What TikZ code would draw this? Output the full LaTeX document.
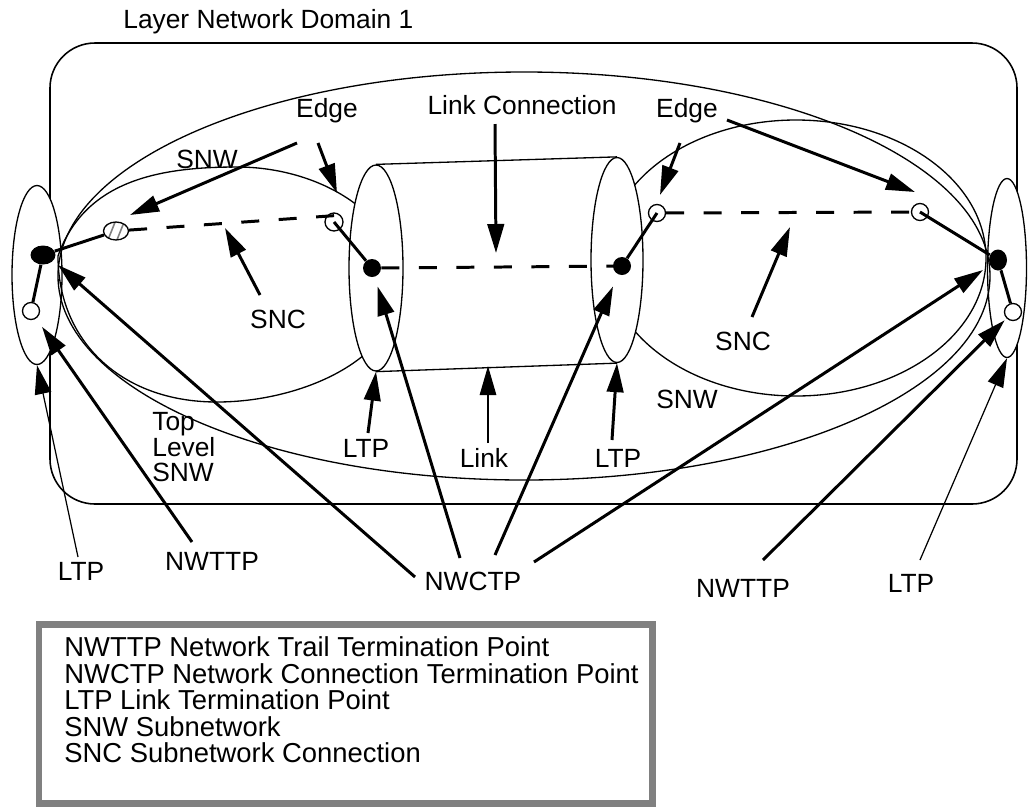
\documentclass[tikz,border=0pt]{standalone}
\usepackage{fontspec}
\setmainfont{Liberation Sans}
\usetikzlibrary{arrows.meta, shapes.geometric}

\begin{document}
\begin{tikzpicture}[x=0.02cm, y=-0.02cm,
  font=\fontsize{15}{15.2}\selectfont,
  lbl/.style={anchor=base, inner sep=0pt},
  outline/.style={line width=0.75pt},
  ltp/.style={ellipse, draw, fill=white, line width=0.75pt, inner sep=0pt},
  opendot/.style={circle, draw, fill=white, line width=0.75pt, inner sep=0pt, minimum size=3.4mm},
  blackdot/.style={ellipse, fill=black, inner sep=0pt},
  hatched/.style={ellipse, draw, fill=white, line width=0.75pt, inner sep=0pt,
    minimum width=5mm, minimum height=3.6mm,
    path picture={\foreach \d in {-0.9mm,0.9mm}
      \draw[gray, line width=0.9pt] ([xshift=\d-0.8mm, yshift=-2mm]path picture bounding box.center)
        -- ([xshift=\d+0.8mm, yshift=2mm]path picture bounding box.center);}},
  link/.style={line width=1.7pt},
  conn/.style={line width=1.7pt, dash pattern=on 3.6mm off 3.9mm},
  ptr/.style={-{Triangle[length=5.8mm, width=3.3mm]}, line width=1.7pt},
  thinptr/.style={-{Triangle[length=5.8mm, width=3.3mm]}, line width=0.7pt}
]
\useasboundingbox (0,0) rectangle (1028,809);

% layer network domain
\draw[line width=0.9pt, rounded corners=0.9cm] (50,43) rectangle (1017,504);
\node[lbl, anchor=base west] (domain) at (123,28) {Layer Network Domain 1};

% end LTPs
\node[ltp, minimum width=1cm, minimum height=3.58cm] (ltpL) at (37,275) {};
\node[ltp, minimum width=0.78cm, minimum height=3.58cm] (ltpR) at (1007,268) {};

% subnetworks
\draw[outline] (524,276) ellipse [x radius=466, y radius=204];
\draw[outline] (58,256) .. controls (85,180) and (160,167) .. (237,167)
  .. controls (320,167) and (400,215) .. (400,285)
  .. controls (400,360) and (300,402) .. (217,402)
  .. controls (120,402) and (58,340) .. cycle;
\draw[outline] (796,258) ellipse [x radius=190, y radius=138];

% link
\node[ltp, minimum width=1.08cm, minimum height=4.12cm] (cylL) at (376,268) {};
\node[ltp, minimum width=1.04cm, minimum height=4.1cm] (cylR) at (617,260) {};
\draw[outline] (cylL.north) -- (cylR.north);
\draw[outline] (cylL.south) -- (cylR.south);

% termination points
\node[blackdot, minimum width=5mm, minimum height=3.8mm] (nwttpL) at (43,255) {};
\node[opendot] (ltpptL) at (31,311) {};
\node[hatched] (edgeL1) at (116,231) {};
\node[opendot, minimum size=3.6mm] (edgeL2) at (334,222) {};
\node[blackdot, circle, minimum size=3.6mm] (nwctpL) at (372,268) {};
\node[blackdot, circle, minimum size=3.6mm] (nwctpR) at (622,266) {};
\node[opendot] (edgeR1) at (657,213) {};
\node[opendot] (edgeR2) at (920,212) {};
\node[blackdot, minimum width=3.6mm, minimum height=4.2mm] (nwttpR) at (998,260) {};
\node[opendot] (ltpptR) at (1013,312) {};

% connections
\draw[link] (nwttpL) -- (edgeL1);
\draw[link] (nwttpL) -- (ltpptL);
\draw[conn] (edgeL1) -- (edgeL2.north east);
\draw[link] (edgeL2.center) -- (nwctpL);
\draw[conn] (nwctpL) -- (nwctpR.east);
\draw[link] (nwctpR) -- (edgeR1.center);
\draw[conn] (edgeR1) -- (edgeR2.center);
\draw[link] (edgeR2.center) -- (nwttpR);
\draw[link] (nwttpR) -- (ltpptR);

% labels
\node[lbl] (edgeA) at (327,117) {Edge};
\node[lbl] (lcLbl) at (522,114) {Link Connection};
\node[lbl] (edgeB) at (687,117) {Edge};
\node[lbl] (snwA) at (207,168) {SNW};
\node[lbl] (sncA) at (278,328) {SNC};
\node[lbl] (sncB) at (743,350) {SNC};
\node[lbl] (snwB) at (687,408) {SNW};
\node[lbl, anchor=base west] (top1) at (152,430) {Top};
\node[lbl, anchor=base west] (top2) at (152,456) {Level};
\node[lbl, anchor=base west] (top3) at (152,481) {SNW};
\node[lbl] (ltpA) at (366,457) {LTP};
\node[lbl] (linkLbl) at (484,467) {Link};
\node[lbl] (ltpB) at (618,467) {LTP};
\node[lbl] (ltpC) at (81,580) {LTP};
\node[lbl] (nwttpA) at (212,570) {NWTTP};
\node[lbl] (nwctpLbl) at (473,590) {NWCTP};
\node[lbl] (nwttpB) at (743,597) {NWTTP};
\node[lbl] (ltpD) at (911,592) {LTP};

% arrow ends
\coordinate (eA1) at (297,143); \coordinate (eA1t) at (130,215);
\coordinate (eA2) at (318,143); \coordinate (eA2t) at (337,193);
\coordinate (lc) at (495,124);  \coordinate (lct) at (496,253);
\coordinate (eB1) at (680,143); \coordinate (eB1t) at (660,195);
\coordinate (eB2) at (727,120); \coordinate (eB2t) at (915,192);
\coordinate (sA) at (260,295);  \coordinate (sAt) at (225,228);
\coordinate (sB) at (752,317);  \coordinate (sBt) at (790,227);
\coordinate (cA) at (415,577);  \coordinate (cAt) at (58,265);
\coordinate (cB) at (460,558);
\coordinate (cC) at (495,555);
\coordinate (cD) at (534,562);  \coordinate (cDt) at (983,270);
\coordinate (tA) at (192,542);
\coordinate (tB) at (763,560);
\coordinate (lA) at (78,557);
\coordinate (lB) at (368,433);
\coordinate (lk) at (488,443);  \coordinate (lkt) at (488,366);
\coordinate (lC) at (612,440);
\coordinate (lD) at (920,560);

% pointers
\draw[ptr] (eA1) -- (eA1t);
\draw[ptr] (eA2) -- (eA2t);
\draw[ptr] (lc) -- (lct);
\draw[ptr] (eB1) -- (eB1t);
\draw[ptr] (eB2) -- (eB2t);
\draw[ptr] (sA) -- (sAt);
\draw[ptr] (sB) -- (sBt);
\draw[ptr] (cA) -- (cAt);
\draw[ptr, shorten >=2mm] (cB) -- (nwctpL);
\draw[ptr, shorten >=2.6mm] (cC) -- (nwctpR);
\draw[ptr] (cD) -- (cDt);
\draw[ptr, shorten >=2mm] (tA) -- (ltpptL);
\draw[ptr, shorten >=0.5mm] (tB) -- (ltpptR);
\draw[thinptr] (lA) -- (ltpL.south);
\draw[ptr] (lB) -- (cylL.south);
\draw[thinptr] (lk) -- (lkt);
\draw[ptr] (lC) -- (cylR.south);
\draw[thinptr] (lD) -- (ltpR.south);

% key
\draw[line width=0.14cm, gray] (39,624) rectangle (652,803);
\foreach \txt [count=\i] in {NWTTP Network Trail Termination Point,
  NWCTP Network Connection Termination Point, LTP Link Termination Point,
  SNW Subnetwork, SNC Subnetwork Connection}
  \node[lbl, anchor=base west, font=\fontsize{15.6}{16}\selectfont] (key\i) at (64,630+26.5*\i) {\txt};
\end{tikzpicture}
\end{document}
